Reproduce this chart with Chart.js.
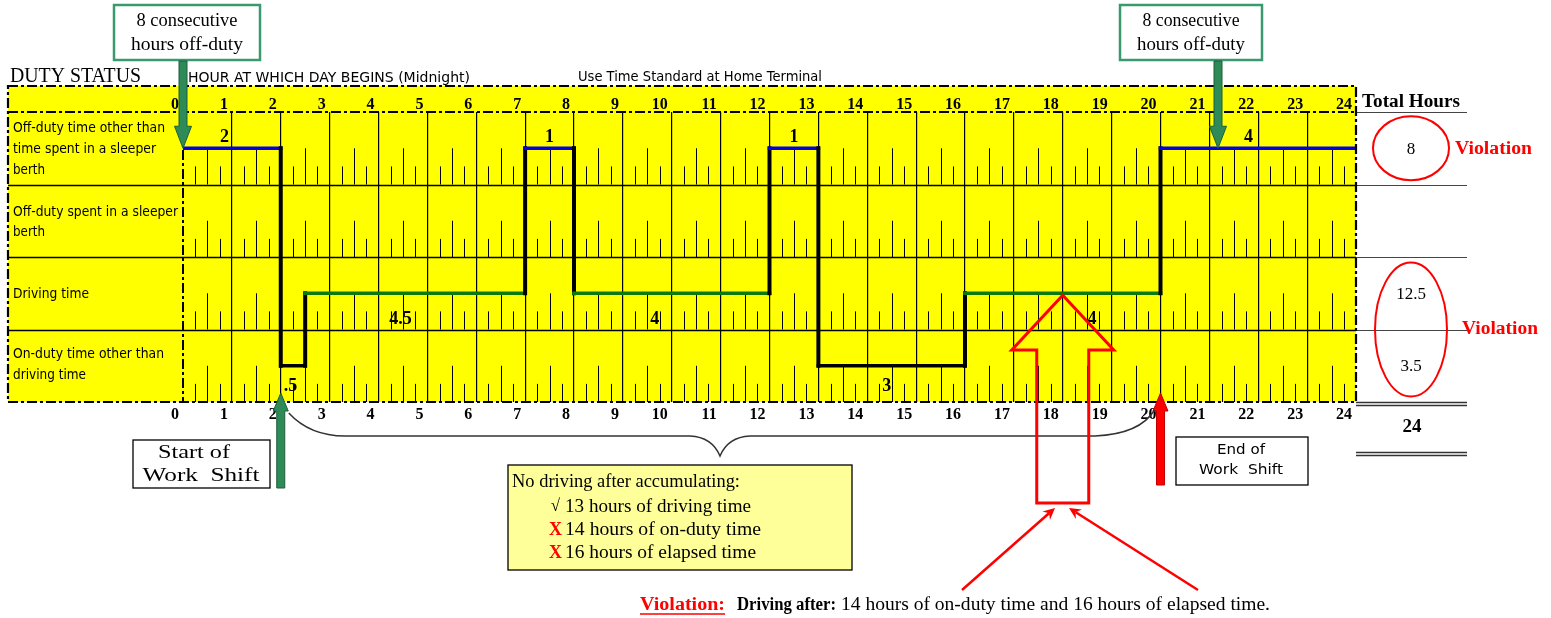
<!DOCTYPE html>
<html><head><meta charset="utf-8">
<script src="https://cdn.jsdelivr.net/npm/chart.js@4/dist/chart.umd.min.js"></script>
<style>html,body{margin:0;padding:0;background:#fff;overflow:hidden}#wrap{width:1551px;height:618px;position:relative}</style>
</head><body><div id="wrap"><canvas id="c"></canvas></div>
<script>
// ---------- data ----------
const hourTickLabels = ['0','1','2','3','4','5','6','7','8','9','10','11','12','13','14','15','16','17','18','19','20','21','22','23','24'];
const rowLabelLines = [
  ['Off-duty time other than','time spent in a sleeper','berth'],
  ['Off-duty spent in a sleeper','berth'],
  ['Driving time'],
  ['On-duty time other than','driving time']
];
// hour at which each duty status starts (last value = end of day)
const changeHours = [0, 2, 2.5, 7, 8, 12, 13, 16, 20, 24];
// duty-status row of each period (0 off-duty, 1 sleeper, 2 driving, 3 on-duty)
const changeRows  = [0, 3, 2, 0, 2, 0, 3, 2, 0];
// hour at which the duration label of each period is written
const durationLabelHours = [0.85, 2.2, 4.45, 7.5, 9.65, 12.5, 14.4, 18.6, 21.8];
const shiftStartHour = 2, shiftEndHour = 20, violationHour = 18;

// ---------- derived ----------
const points = [];
for (let i = 0; i < changeRows.length; i++) {
  points.push({x: changeHours[i], y: changeRows[i] + 0.5});
  points.push({x: changeHours[i + 1], y: changeRows[i] + 0.5});
}
const totals = [0, 0, 0, 0];
for (let i = 0; i < changeRows.length; i++) totals[changeRows[i]] += changeHours[i + 1] - changeHours[i];
const grandTotal = totals.reduce((a, b) => a + b, 0);
const fmt = v => (v < 1 ? String(v).replace(/^0/, '') : String(v));

const rowColors = ['#0000ee', '#000000', '#0b7a0b', '#000000'];
const SERIF = '"Liberation Serif", "Times New Roman", serif';
const SANS = '"DejaVu Sans", Verdana, sans-serif';

function T(ctx, s, x, y, o) {
  ctx.save();
  ctx.font = o.font; ctx.fillStyle = o.color || '#000'; ctx.textBaseline = o.baseline || 'middle';
  const w = ctx.measureText(s).width;
  const sx = o.w ? o.w / w : 1;
  const ax = o.align === 'center' ? -w * sx / 2 : o.align === 'right' ? -w * sx : 0;
  ctx.translate(x + ax, y); ctx.scale(sx, 1); ctx.textAlign = 'left'; ctx.fillText(s, 0, 0);
  ctx.restore();
  return w * sx;
}
function line(ctx, x0, y0, x1, y1, color, lw, dash) {
  ctx.save(); ctx.beginPath(); ctx.strokeStyle = color; ctx.lineWidth = lw;
  ctx.setLineDash(dash || []); ctx.moveTo(x0, y0); ctx.lineTo(x1, y1); ctx.stroke(); ctx.restore();
}
function vArrow(ctx, x, y0, y1, sw, hw, hl, fill, stroke) {
  const dir = Math.sign(y1 - y0), yb = y1 - dir * hl;
  ctx.save(); ctx.beginPath();
  ctx.moveTo(x - sw / 2, y0); ctx.lineTo(x - sw / 2, yb); ctx.lineTo(x - hw / 2, yb); ctx.lineTo(x, y1);
  ctx.lineTo(x + hw / 2, yb); ctx.lineTo(x + sw / 2, yb); ctx.lineTo(x + sw / 2, y0); ctx.closePath();
  ctx.fillStyle = fill; ctx.fill();
  if (stroke) { ctx.strokeStyle = stroke; ctx.lineWidth = 1; ctx.stroke(); }
  ctx.restore();
}
function thinArrow(ctx, x0, y0, x1, y1, color) {
  const a = Math.atan2(y1 - y0, x1 - x0), L = 13, W = 0.45;
  ctx.save(); ctx.strokeStyle = color; ctx.fillStyle = color; ctx.lineWidth = 2.5;
  ctx.beginPath(); ctx.moveTo(x0, y0); ctx.lineTo(x1 - Math.cos(a) * 8, y1 - Math.sin(a) * 8); ctx.stroke();
  ctx.beginPath(); ctx.moveTo(x1, y1);
  ctx.lineTo(x1 - L * Math.cos(a - W), y1 - L * Math.sin(a - W));
  ctx.lineTo(x1 - L * 0.6 * Math.cos(a), y1 - L * 0.6 * Math.sin(a));
  ctx.lineTo(x1 - L * Math.cos(a + W), y1 - L * Math.sin(a + W));
  ctx.closePath(); ctx.fill(); ctx.restore();
}
function box(ctx, x, y, w, h, fill, stroke, lw) {
  ctx.save(); ctx.fillStyle = fill; ctx.fillRect(x, y, w, h);
  ctx.strokeStyle = stroke; ctx.lineWidth = lw; ctx.strokeRect(x, y, w, h); ctx.restore();
}

const DASH = [10, 3, 3, 3];
const LEFT = 8, HEAD_TOP = 86, TOT_R = 1467;

const logPlugin = {
  id: 'logPlugin',
  beforeDraw(chart) {
    const ctx = chart.ctx, a = chart.chartArea;
    ctx.save(); ctx.fillStyle = '#ffff00';
    ctx.fillRect(LEFT, HEAD_TOP, a.right - LEFT, a.bottom - HEAD_TOP); ctx.restore();
  },
  beforeDatasetsDraw(chart) {
    const ctx = chart.ctx, a = chart.chartArea, xs = chart.scales.x, ys = chart.scales.y;
    // quarter-hour ticks
    for (let r = 0; r < 4; r++) {
      const yb = ys.getPixelForValue(r + 1), yt = ys.getPixelForValue(r), h = yb - yt;
      for (let q = 1; q < 96; q++) {
        if (q % 4 === 0) continue;
        const x = Math.round(xs.getPixelForValue(q / 4)) + 0.5;
        const len = q % 2 === 0 ? h / 2 : h / 4;
        line(ctx, x, yb, x, yb - len, '#000', 1);
      }
    }
    // row separators
    for (let r = 1; r < 4; r++) {
      const y = Math.round(ys.getPixelForValue(r)) + 0.5;
      line(ctx, LEFT, y, a.right, y, '#000', 1.3);
    }
    // total column lines
    for (let r = 0; r < 4; r++) {
      const y = Math.round(ys.getPixelForValue(r)) + 0.5;
      line(ctx, a.right, y, TOT_R, y, '#444', 1.2);
    }
    line(ctx, a.right, a.bottom + 0.5, TOT_R, a.bottom + 0.5, '#333', 1.3);
    line(ctx, a.right, a.bottom + 3.5, TOT_R, a.bottom + 3.5, '#333', 1.3);
    line(ctx, a.right, 452.5, TOT_R, 452.5, '#333', 1.3);
    line(ctx, a.right, 455.5, TOT_R, 455.5, '#333', 1.3);
  },
  afterDraw(chart) {
    const ctx = chart.ctx, a = chart.chartArea, xs = chart.scales.x, ys = chart.scales.y;
    const X = h => xs.getPixelForValue(h), Y = v => ys.getPixelForValue(v);
    // dashed borders
    ctx.save(); ctx.strokeStyle = '#000'; ctx.lineWidth = 2.2; ctx.setLineDash(DASH);
    ctx.strokeRect(LEFT, HEAD_TOP, a.right - LEFT, a.bottom - HEAD_TOP); ctx.restore();
    line(ctx, LEFT, a.top, a.right, a.top, '#000', 2, DASH);
    line(ctx, a.left, a.top, a.left, a.bottom, '#000', 2, DASH);

    // hour labels (top & bottom)
    hourTickLabels.forEach((t, i) => {
      T(ctx, t, X(i) - 4, 109, {font: 'bold 16px ' + SERIF, align: 'right', baseline: 'alphabetic'});
      T(ctx, t, X(i) - 4, 419, {font: 'bold 16px ' + SERIF, align: 'right', baseline: 'alphabetic'});
    });
    // row labels
    const rowLabelY = [[128, 149, 170], [212, 232], [294], [354, 375]];
    const rowLabelW = [[152, 143, 32], [165, 32], [76], [151, 73]];
    rowLabelLines.forEach((ls, r) => ls.forEach((s, k) =>
      T(ctx, s, 13, rowLabelY[r][k], {font: '14px ' + SANS, w: rowLabelW[r][k]})));

    // titles
    T(ctx, 'DUTY STATUS', 10, 77, {font: '20px ' + SERIF, w: 131});
    T(ctx, 'HOUR AT WHICH DAY BEGINS (Midnight)', 188, 78, {font: '14px ' + SANS, w: 282});
    T(ctx, 'Use Time Standard at Home Terminal', 578, 77, {font: '14px ' + SANS, w: 244});
    T(ctx, 'Total Hours', 1362, 102, {font: 'bold 18px ' + SERIF, w: 98});

    // duration labels
    const dy = [-11, 0, 26, 21];
    changeRows.forEach((r, i) => {
      const d = changeHours[i + 1] - changeHours[i];
      T(ctx, fmt(d), X(durationLabelHours[i]), Y(r + 0.5) + dy[r], {font: 'bold 18px ' + SERIF, align: 'center'});
    });

    // totals
    ctx.save(); ctx.strokeStyle = '#ff0000'; ctx.lineWidth = 2;
    ctx.beginPath(); ctx.ellipse(1411, Y(0.5), 38, 32, 0, 0, Math.PI * 2); ctx.stroke();
    ctx.beginPath(); ctx.ellipse(1411, Y(3), 36, 67, 0, 0, Math.PI * 2); ctx.stroke();
    ctx.restore();
    [0, 2, 3].forEach(r => T(ctx, fmt(totals[r]), 1411, Y(r + 0.5) + 1, {font: '17px ' + SERIF, align: 'center'}));
    T(ctx, 'Violation', 1455, Y(0.5) + 1, {font: 'bold 18px ' + SERIF, color: '#ff0000', w: 77});
    T(ctx, 'Violation', 1462, Y(3), {font: 'bold 18px ' + SERIF, color: '#ff0000', w: 76});
    T(ctx, fmt(grandTotal), 1412, 427, {font: 'bold 19px ' + SERIF, align: 'center'});

    // top green callouts
    const green = '#2e8b57';
    box(ctx, 114, 5, 146, 55, '#fff', '#3a9a6e', 2.5);
    T(ctx, '8 consecutive', 187, 21, {font: '19px ' + SERIF, align: 'center', w: 101});
    T(ctx, 'hours off-duty', 187, 45, {font: '19px ' + SERIF, align: 'center', w: 112});
    vArrow(ctx, X(0), 61, Y(0.5), 8, 17, 22, green, '#1d5e3a');
    box(ctx, 1120, 5, 142, 55, '#fff', '#3a9a6e', 2.5);
    T(ctx, '8 consecutive', 1191, 21, {font: '19px ' + SERIF, align: 'center', w: 97});
    T(ctx, 'hours off-duty', 1191, 45, {font: '19px ' + SERIF, align: 'center', w: 108});
    vArrow(ctx, 1218, 61, Y(0.5), 8, 17, 22, green, '#1d5e3a');

    // shift arrows & boxes
    vArrow(ctx, X(shiftStartHour), 488, 393, 8, 15, 18, green, '#1d5e3a');
    box(ctx, 133, 440, 137, 48, '#fff', '#000', 1.3);
    T(ctx, 'Start of', 194, 453, {font: '19px ' + SERIF, align: 'center', w: 72});
    T(ctx, 'Work  Shift', 201, 476, {font: '19px ' + SERIF, align: 'center', w: 117});
    vArrow(ctx, X(shiftEndHour), 485, 393, 8, 15, 18, '#ff0000', '#c00000');
    box(ctx, 1176, 437, 132, 48, '#fff', '#000', 1.3);
    T(ctx, 'End of', 1241, 450, {font: '14px ' + SANS, align: 'center', w: 48});
    T(ctx, 'Work  Shift', 1241, 470, {font: '14px ' + SANS, align: 'center', w: 84});

    // brace
    ctx.save(); ctx.strokeStyle = '#333'; ctx.lineWidth = 1.5; ctx.beginPath();
    ctx.moveTo(X(shiftStartHour) + 8, 413);
    ctx.quadraticCurveTo(310, 436, 345, 436);
    ctx.lineTo(690, 436);
    ctx.quadraticCurveTo(712, 437, 720, 456);
    ctx.quadraticCurveTo(728, 437, 750, 436);
    ctx.lineTo(1095, 436);
    ctx.quadraticCurveTo(1140, 434, X(shiftEndHour) - 6, 410);
    ctx.stroke(); ctx.restore();

    // rule box
    box(ctx, 508, 465, 344, 105, '#ffff99', '#000', 1.3);
    T(ctx, 'No driving after accumulating:', 512, 482, {font: '19px ' + SERIF, w: 228});
    T(ctx, '\u221A', 551, 507, {font: '17px ' + SERIF, w: 9});
    T(ctx, '13 hours of driving time', 565, 507, {font: '19px ' + SERIF, w: 186});
    T(ctx, 'X', 549, 530, {font: 'bold 18px ' + SERIF, color: '#ff0000', w: 13});
    T(ctx, '14 hours of on-duty time', 565, 530, {font: '19px ' + SERIF, w: 196});
    T(ctx, 'X', 549, 553, {font: 'bold 18px ' + SERIF, color: '#ff0000', w: 13});
    T(ctx, '16 hours of elapsed time', 565, 553, {font: '19px ' + SERIF, w: 191});

    // big hollow red arrow pointing at the violating driving
    const tx = X(violationHour), ty = Y(2.5) + 2;
    ctx.save(); ctx.strokeStyle = '#ff0000'; ctx.lineWidth = 3; ctx.lineJoin = 'miter'; ctx.beginPath();
    ctx.moveTo(tx, ty); ctx.lineTo(tx + 51, 350); ctx.lineTo(tx + 26, 350); ctx.lineTo(tx + 26, 503);
    ctx.lineTo(tx - 26, 503); ctx.lineTo(tx - 26, 350); ctx.lineTo(tx - 51, 350); ctx.closePath(); ctx.stroke();
    ctx.restore();
    thinArrow(ctx, 962, 590, 1055, 508, '#ff0000');
    thinArrow(ctx, 1198, 590, 1069, 508, '#ff0000');

    // bottom violation sentence
    const by = 605;
    const w1 = T(ctx, 'Violation:', 640, by, {font: 'bold 18px ' + SERIF, color: '#ff0000', w: 85});
    line(ctx, 640, by + 9, 640 + w1, by + 9, '#ff0000', 1.3);
    T(ctx, 'Driving after:', 737, by, {font: 'bold 18px ' + SERIF, w: 99});
    T(ctx, '14 hours of on-duty time and 16 hours of elapsed time.', 841, by, {font: '18px ' + SERIF, w: 429});
  }
};

new Chart(document.getElementById('c'), {
  type: 'line',
  data: {datasets: [{
    data: points, borderWidth: 3.5, pointRadius: 0, fill: false, tension: 0,
    borderCapStyle: 'square', borderJoinStyle: 'miter',
    segment: {
      borderColor: c => c.p0.parsed.x === c.p1.parsed.x ? '#000' : rowColors[Math.floor(c.p0.parsed.y)],
      borderWidth: c => c.p0.parsed.x === c.p1.parsed.x ? 4 : 3.5
    }
  }]},
  options: {
    responsive: true, maintainAspectRatio: false, animation: false,
    layout: {padding: {left: 183, right: 195, top: 112, bottom: 216}},
    plugins: {legend: {display: false}, tooltip: {enabled: false}},
    scales: {
      x: {type: 'linear', min: 0, max: 24, ticks: {display: false, stepSize: 1},
          grid: {drawTicks: false, lineWidth: 1.2,
                 color: c => (c.tick && (c.tick.value === 0 || c.tick.value === 24)) ? 'rgba(0,0,0,0)' : '#000'},
          border: {display: false}},
      y: {type: 'linear', display: false, min: 0, max: 4, reverse: true}
    }
  },
  plugins: [logPlugin]
});
</script></body></html>
